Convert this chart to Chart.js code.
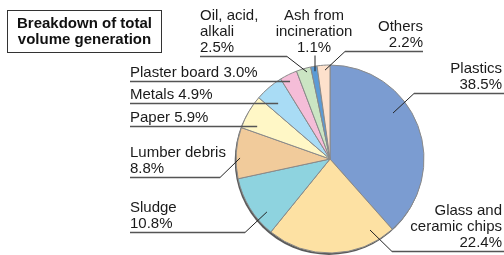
<!DOCTYPE html>
<html>
<head>
<meta charset="utf-8">
<script src="https://cdn.jsdelivr.net/npm/chart.js@4/dist/chart.umd.min.js"></script>
<style>
  html, body { margin: 0; padding: 0; background: #fff; }
  #wrap { width: 504px; height: 255px; }
</style>
</head>
<body>
<div id="wrap"><canvas id="pie" width="504" height="255"></canvas></div>
<script>
// ─── DATA ────────────────────────────────────────────────────────────────────
const categories = ['Plastics', 'Glass and ceramic chips', 'Sludge', 'Lumber debris', 'Paper',
                    'Metals', 'Plaster board', 'Oil, acid, alkali', 'Ash from incineration', 'Others'];
const shares = [38.5, 22.4, 10.8, 8.8, 5.9, 4.9, 3.0, 2.5, 1.1, 2.2];
const sliceColors = ['#7b9cd1', '#fde1a3', '#8ed3df', '#f1cb9b', '#fff7c6',
                     '#a9dcf5', '#f5bdd8', '#cbe5c3', '#5b9bd6', '#fde1cc'];
const labelLines = [
  ['Plastics', '38.5%'],
  ['Glass and', 'ceramic chips', '22.4%'],
  ['Sludge', '10.8%'],
  ['Lumber debris', '8.8%'],
  ['Paper 5.9%'],
  ['Metals 4.9%'],
  ['Plaster board 3.0%'],
  ['Oil, acid,', 'alkali', '2.5%'],
  ['Ash from', 'incineration', '1.1%'],
  ['Others', '2.2%']
];
const titleLines = ['Breakdown of total', 'volume generation'];

// label layout: text anchor, underline, and where the leader touches the slice (angle deg, radius fraction)
const labelLayout = [
  { tx: 502, align: 'right',  uy: 93,  u1: 414, u2: 504, elbow: [414, 93],  tip: [-36.1, 0.83] },
  { tx: 502, align: 'right',  uy: 251, u1: 392, u2: 504, elbow: [392, 251], tip: [60.6, 0.867] },
  { tx: 130, align: 'left',   uy: 232, u1: 130, u2: 245, elbow: [245, 232], tip: [140, 0.876] },
  { tx: 130, align: 'left',   uy: 177, u1: 130, u2: 220, elbow: [220, 177], tip: [180.6, 0.957] },
  { tx: 130, align: 'left',   uy: 126, u1: 130, u2: null, elbow: null,      tip: [204.3, 0.85] },
  { tx: 130, align: 'left',   uy: 103, u1: 130, u2: null, elbow: null,      tip: [227, 0.809] },
  { tx: 130, align: 'left',   uy: 81,  u1: 130, u2: null, elbow: null,      tip: [242.9, 0.933] },
  { tx: 200, align: 'left',   uy: 56,  u1: 200, u2: 287, elbow: [287, 56],  tip: [255.2, 0.957] },
  { tx: 314, align: 'center', uy: 56,  u1: null, u2: null, elbow: [315, 55], tip: [260.3, 0.947] },
  { tx: 423, align: 'right',  uy: 51,  u1: 345, u2: 423, elbow: [345, 51],  tip: [266.8, 0.947] }
];

const FONT = '"Liberation Sans", Arial, Helvetica, sans-serif';

// ─── PLUGINS ─────────────────────────────────────────────────────────────────
const shadowPlugin = {
  id: 'shadow',
  beforeDatasetsDraw(chart) {
    const arc = chart.getDatasetMeta(0).data[0];
    if (!arc) return;
    const ctx = chart.ctx;
    ctx.save();
    ctx.fillStyle = '#5a5a5a';
    ctx.beginPath();
    ctx.arc(arc.x - 1, arc.y + 1.6, arc.outerRadius + 0.3, 0, Math.PI * 2);
    ctx.fill();
    ctx.restore();
  }
};

const labelPlugin = {
  id: 'sliceLabels',
  afterDraw(chart) {
    const ctx = chart.ctx;
    const arcs = chart.getDatasetMeta(0).data;
    ctx.save();
    ctx.font = '15px ' + FONT;
    ctx.fillStyle = '#1a1a1a';
    arcs.forEach((arc, i) => {
      const L = labelLayout[i];
      const lines = labelLines[i];
      const a = L.tip[0] * Math.PI / 180;
      const tx = arc.x + Math.cos(a) * arc.outerRadius * L.tip[1];
      const ty = arc.y + Math.sin(a) * arc.outerRadius * L.tip[1];

      // text
      ctx.textAlign = L.align;
      ctx.textBaseline = 'alphabetic';
      lines.forEach((t, k) => {
        ctx.fillText(t, L.tx, L.uy - 4 - (lines.length - 1 - k) * 16);
      });

      // underline
      ctx.strokeStyle = '#555';
      ctx.lineWidth = 1.3;
      if (L.u1 !== null) {
        ctx.beginPath();
        ctx.moveTo(L.u1, L.uy + 0.5);
        ctx.lineTo(L.u2 !== null ? L.u2 : tx, L.uy + 0.5);
        ctx.stroke();
      }
      // leader
      if (L.elbow) {
        ctx.strokeStyle = '#222';
        ctx.lineWidth = 1;
        ctx.beginPath();
        ctx.moveTo(L.elbow[0], L.elbow[1] + 0.5);
        ctx.lineTo(tx, ty);
        ctx.stroke();
      }
    });

    // title box
    ctx.strokeStyle = '#333';
    ctx.lineWidth = 1;
    ctx.strokeRect(7.5, 10.5, 154, 42);
    ctx.font = 'bold 15px ' + FONT;
    ctx.textAlign = 'center';
    ctx.fillStyle = '#111';
    ctx.fillText(titleLines[0], 84.5, 28);
    ctx.fillText(titleLines[1], 84.5, 44);
    ctx.restore();
  }
};

// ─── CHART ───────────────────────────────────────────────────────────────────
new Chart(document.getElementById('pie'), {
  type: 'pie',
  data: {
    labels: categories,
    datasets: [{
      data: shares,
      backgroundColor: sliceColors,
      borderColor: '#8a8a8a',
      borderWidth: 1,
      hoverOffset: 0,
      offset: 0
    }]
  },
  options: {
    responsive: false,
    animation: false,
    radius: 94,
    layout: { padding: { left: 236, right: 80, top: 65, bottom: 2 } },
    plugins: { legend: { display: false }, tooltip: { enabled: false } }
  },
  plugins: [shadowPlugin, labelPlugin]
});
</script>
</body>
</html>
